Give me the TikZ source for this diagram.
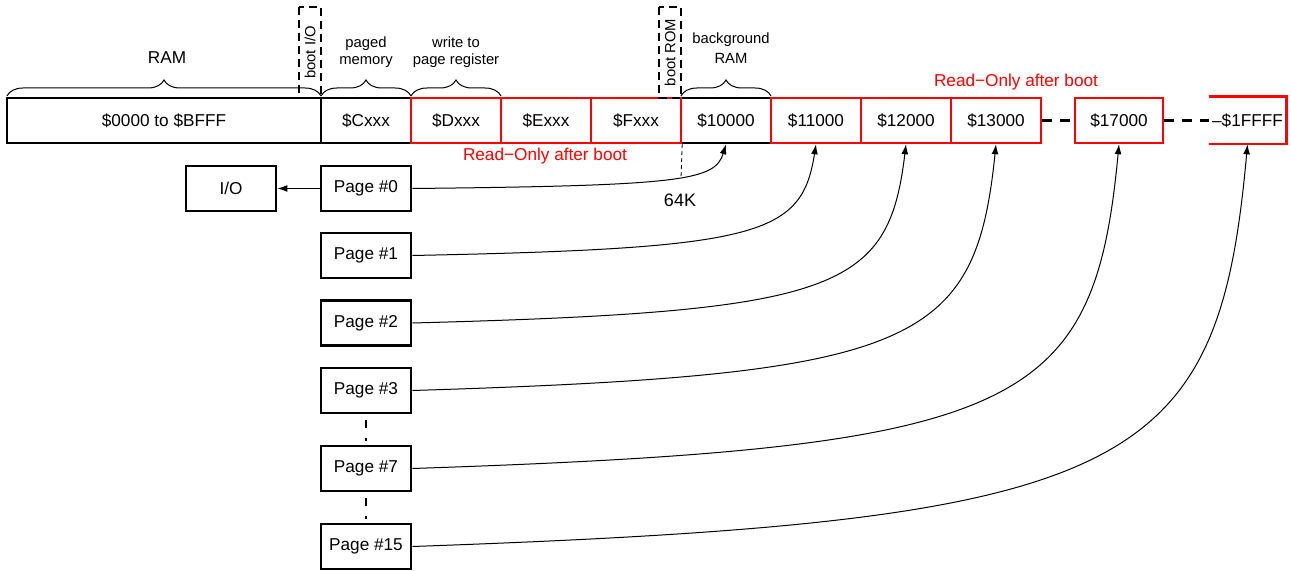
\documentclass[tikz,border=0pt]{standalone}
\usepackage{fontspec}
\setmainfont{Liberation Sans}
\usetikzlibrary{decorations.pathreplacing,calc,arrows.meta}

\tikzset{
  cell/.style={draw,line width=1.3pt,minimum width=45pt,minimum height=22.5pt,inner sep=0pt,
    font=\fontsize{8.6pt}{10pt}\selectfont},
  romcell/.style={cell,draw=red,line width=1.2pt},
  bootbox/.style={draw,dashed,line width=1.2pt,dash pattern=on 4pt off 2.5pt,minimum width=45.5pt,
    minimum height=11pt,inner sep=0pt,font=\fontsize{7.4pt}{8pt}\selectfont},
  brc/.style={decorate,decoration={brace,amplitude=8pt},line width=0.5pt},
  lbl/.style={align=center,font=\fontsize{7.4pt}{8.6pt}\selectfont},
  link/.style={-{Latex[length=5pt,width=3.4pt]},line width=0.5pt},
  gap/.style={line width=1.3pt,dash pattern=on 5pt off 4pt},
  vgap/.style={line width=1.3pt,dash pattern=on 0pt off 3pt on 4pt off 5pt on 1.5pt off 20pt}
}

% page -> memory block, rounded corner curve
\newcommand\pagelink[2]{%
  \coordinate (knee) at ($(#1.east -| #2.south)!0.07!(#2.south)$);
  \coordinate (knee) at ($(knee)!0.04!(knee -| #1.east)$);
  \draw[link] (#1.east) .. controls ($(#1.east)!0.9!(knee)$) and ($(#2.south)!0.88!(knee)$) .. (#2.south);}

\begin{document}
\begin{tikzpicture}[x=0.5pt,y=-0.5pt]
\useasboundingbox (0,0) rectangle (1291,571);

% memory map
\node[cell,minimum width=157pt] (ram) at (164,120.5) {\$0000 to \$BFFF};
\node[cell] (mC) at (366,120.5) {\$Cxxx};
\node[cell] (m10000) at (726,120.5) {\$10000};
\node[romcell] (mD) at (456,120.5) {\$Dxxx};
\node[romcell] (mE) at (546,120.5) {\$Exxx};
\node[romcell] (mF) at (636,120.5) {\$Fxxx};
\node[romcell] (m11000) at (816,120.5) {\$11000};
\node[romcell] (m12000) at (906,120.5) {\$12000};
\node[romcell] (m13000) at (996,120.5) {\$13000};
\node[romcell,minimum width=44pt] (m17000) at (1119,120.5) {\$17000};
\node[cell,draw=none,minimum width=37.5pt] (m1FFFF) at (1247.5,120.5) {--\$1FFFF};
\draw[red,line width=1.2pt] (m1FFFF.north west) -- (m1FFFF.north east) -- (m1FFFF.south east) -- (m1FFFF.south west);
\draw[gap] (m13000.east) -- (m17000.west);
\draw[gap] (m17000.east) -- (m1FFFF.west);

% boot windows
\node[bootbox,rotate=90] (bootio) at (310,52.5) {boot I/O};
\node[bootbox,rotate=90] (bootrom) at (670,52.5) {boot ROM};

% braces
\draw[brc] (7,96) -- (321,96);
\draw[brc] (321,96) -- (411,96);
\draw[brc] (411,96) -- (501,96);
\draw[brc] (681,96) -- (771,96);
\node[lbl,font=\fontsize{8.6pt}{10pt}\selectfont] (lram) at (167,58) {RAM};
\node[lbl] (lpaged) at (366,52) {paged\\memory};
\node[lbl] (lwrite) at (456,52) {write to\\page register};
\node[lbl,font=\fontsize{7.4pt}{10pt}\selectfont] (lbg) at (731,48) {background\\RAM};

\node[red,font=\fontsize{8.6pt}{10pt}\selectfont] (ro1) at (545,156) {Read−Only after boot};
\node[red,font=\fontsize{8.6pt}{10pt}\selectfont] (ro2) at (1016,82) {Read−Only after boot};

% 64K mark
\coordinate (k64) at (681,178);
\draw[line width=0.4pt,dash pattern=on 2pt off 1.5pt] (mF.south east) -- (k64);
\node[font=\fontsize{9pt}{10pt}\selectfont] (l64) at (680,200) {64K};

% pages
\node[cell] (io) at (231,188.5) {I/O};
\node[cell] (p0) at (366,188.5) {Page \#0};
\node[cell] (p1) at (366,255.5) {Page \#1};
\node[cell] (p2) at (366,323) {Page \#2};
\node[cell] (p3) at (366,390.5) {Page \#3};
\node[cell] (p7) at (366,468.5) {Page \#7};
\node[cell] (p15) at (366,546.5) {Page \#15};
\draw[vgap] (p3.south) -- (p7.north);
\draw[vgap] (p7.south) -- (p15.north);

\draw[link] (p0.west) -- (io.east);
\pagelink{p0}{m10000}
\pagelink{p1}{m11000}
\pagelink{p2}{m12000}
\pagelink{p3}{m13000}
\pagelink{p7}{m17000}
\pagelink{p15}{m1FFFF}
\end{tikzpicture}
\end{document}
